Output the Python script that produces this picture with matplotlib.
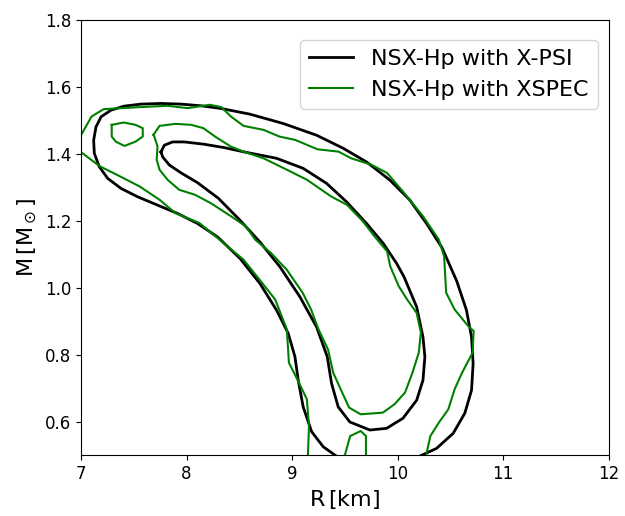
import matplotlib
matplotlib.use("Agg")

import matplotlib.pyplot as plt

# X-PSI contours (R in km, M in Msun)
xpsi_outer_r = [10.17, 10.21, 10.368, 10.526, 10.636, 10.70, 10.715, 10.70, 10.652, 10.56, 10.42,
                10.274, 10.116, 9.926, 9.706, 9.484, 9.232, 8.916, 8.60, 8.326, 8.136, 7.947,
                7.758, 7.568, 7.41, 7.284, 7.19, 7.142, 7.12, 7.126, 7.173, 7.253, 7.379,
                7.537, 7.726, 7.916, 8.105, 8.294, 8.506, 8.695, 8.853, 8.963, 9.027, 9.058,
                9.105, 9.185, 9.295, 9.42, 9.47]
xpsi_outer_m = [0.48, 0.497, 0.520, 0.565, 0.625, 0.694, 0.774, 0.853, 0.933, 1.02, 1.12,
                1.192, 1.262, 1.322, 1.376, 1.417, 1.456, 1.491, 1.519, 1.536, 1.544, 1.549,
                1.551, 1.549, 1.543, 1.531, 1.511, 1.481, 1.441, 1.402, 1.362, 1.327, 1.297,
                1.272, 1.247, 1.222, 1.192, 1.152, 1.088, 1.013, 0.933, 0.864, 0.794, 0.724,
                0.644, 0.570, 0.525, 0.497, 0.48]

xpsi_inner_r = [7.758, 7.789, 7.868, 7.978, 8.168, 8.357, 8.547, 8.853, 9.105, 9.327, 9.516,
                9.706, 9.863, 9.99, 10.06, 10.18, 10.24, 10.258, 10.24, 10.18, 10.05, 9.895,
                9.737, 9.547, 9.437, 9.374, 9.333, 9.232, 9.074, 8.884, 8.695, 8.50, 8.30,
                8.10, 7.95, 7.837, 7.774, 7.758]
xpsi_inner_m = [1.406, 1.426, 1.436, 1.436, 1.429, 1.419, 1.406, 1.387, 1.357, 1.312, 1.257,
                1.192, 1.133, 1.073, 1.033, 0.943, 0.853, 0.794, 0.724, 0.664, 0.610, 0.580,
                0.575, 0.599, 0.644, 0.714, 0.794, 0.883, 0.973, 1.063, 1.137, 1.204, 1.268,
                1.315, 1.343, 1.367, 1.391, 1.406]

# XSPEC contours
xspec_outer_r = [10.26, 10.27, 10.31, 10.39, 10.48, 10.54, 10.61, 10.71, 10.72, 10.67, 10.54,
                 10.46, 10.44, 10.39, 10.24, 10.05, 9.90, 9.75, 9.56, 9.44, 9.24, 9.03,
                 8.88, 8.73, 8.54, 8.42, 8.33, 8.22, 8.01, 7.82, 7.555, 7.215, 7.10, 6.98,
                 6.98, 7.18, 7.37, 7.555, 7.745, 7.895, 8.12, 8.35, 8.54, 8.69, 8.84,
                 8.95, 8.97, 9.05, 9.14, 9.16, 9.15, 9.15]
xspec_outer_m = [0.48, 0.50, 0.557, 0.597, 0.637, 0.697, 0.746, 0.806, 0.871, 0.885, 0.935,
                 0.985, 1.094, 1.144, 1.214, 1.288, 1.343, 1.368, 1.387, 1.407, 1.414, 1.442,
                 1.452, 1.472, 1.484, 1.512, 1.540, 1.547, 1.537, 1.544, 1.540, 1.534, 1.512, 1.445,
                 1.41, 1.363, 1.333, 1.303, 1.263, 1.223, 1.194, 1.134, 1.084, 1.025, 0.965,
                 0.876, 0.776, 0.726, 0.667, 0.587, 0.50, 0.48]

xspec_island_r = [7.291, 7.404, 7.517, 7.585, 7.585, 7.517, 7.412, 7.329, 7.291, 7.291]
xspec_island_m = [1.487, 1.494, 1.487, 1.477, 1.452, 1.437, 1.424, 1.437, 1.452, 1.487]

xspec_inner_r = [7.687, 7.744, 7.895, 8.046, 8.16, 8.27, 8.42, 8.54, 8.73, 8.95, 9.14, 9.37,
                 9.52, 9.67, 9.78, 9.90, 9.93, 10.01, 10.09, 10.18, 10.22, 10.20, 10.14,
                 10.07, 9.97, 9.86, 9.65, 9.54, 9.46, 9.39, 9.34, 9.25, 9.18, 9.10, 8.95,
                 8.80, 8.65, 8.56, 8.42, 8.23, 8.08, 7.93, 7.82, 7.744, 7.717, 7.725, 7.695, 7.687]
xspec_inner_m = [1.457, 1.484, 1.490, 1.487, 1.477, 1.452, 1.422, 1.407, 1.387, 1.353, 1.323, 1.273,
                 1.248, 1.199, 1.154, 1.109, 1.064, 1.005, 0.965, 0.925, 0.866, 0.806, 0.746,
                 0.687, 0.652, 0.627, 0.622, 0.642, 0.697, 0.746, 0.816, 0.876, 0.935, 0.985, 1.054,
                 1.104, 1.144, 1.184, 1.214, 1.253, 1.278, 1.293, 1.323, 1.353, 1.383, 1.422, 1.452, 1.457]

xspec_bottom_r = [9.49, 9.50, 9.55, 9.65, 9.70, 9.70, 9.70]
xspec_bottom_m = [0.48, 0.50, 0.557, 0.572, 0.557, 0.50, 0.48]

fig = plt.figure(figsize=(6.25, 5.16), dpi=100)
ax = fig.add_axes([0.1296, 0.118, 0.8444, 0.843])

ax.plot(xpsi_outer_r, xpsi_outer_m, color="black", lw=2, solid_joinstyle="round",
        label="NSX-Hp with X-PSI")
ax.plot(xpsi_inner_r, xpsi_inner_m, color="black", lw=2, solid_joinstyle="round")

green = "#008000"
ax.plot(xspec_outer_r, xspec_outer_m, color=green, lw=1.5, label="NSX-Hp with XSPEC")
ax.plot(xspec_island_r, xspec_island_m, color=green, lw=1.5)
ax.plot(xspec_inner_r, xspec_inner_m, color=green, lw=1.5)
ax.plot(xspec_bottom_r, xspec_bottom_m, color=green, lw=1.5)

ax.set_xlim(7, 12)
ax.set_ylim(0.5, 1.8)
ax.set_xticks([7, 8, 9, 10, 11, 12])
ax.set_yticks([0.6, 0.8, 1.0, 1.2, 1.4, 1.6, 1.8])
ax.tick_params(labelsize=12)
ax.set_xlabel(r"R$\,$[km]", fontsize=16)
ax.set_ylabel(r"M$\,$[M$_\odot$]", fontsize=16)
ax.legend(loc="upper right", bbox_to_anchor=(1.0, 0.98), fontsize=16)

fig.savefig("out.png", dpi=100)
